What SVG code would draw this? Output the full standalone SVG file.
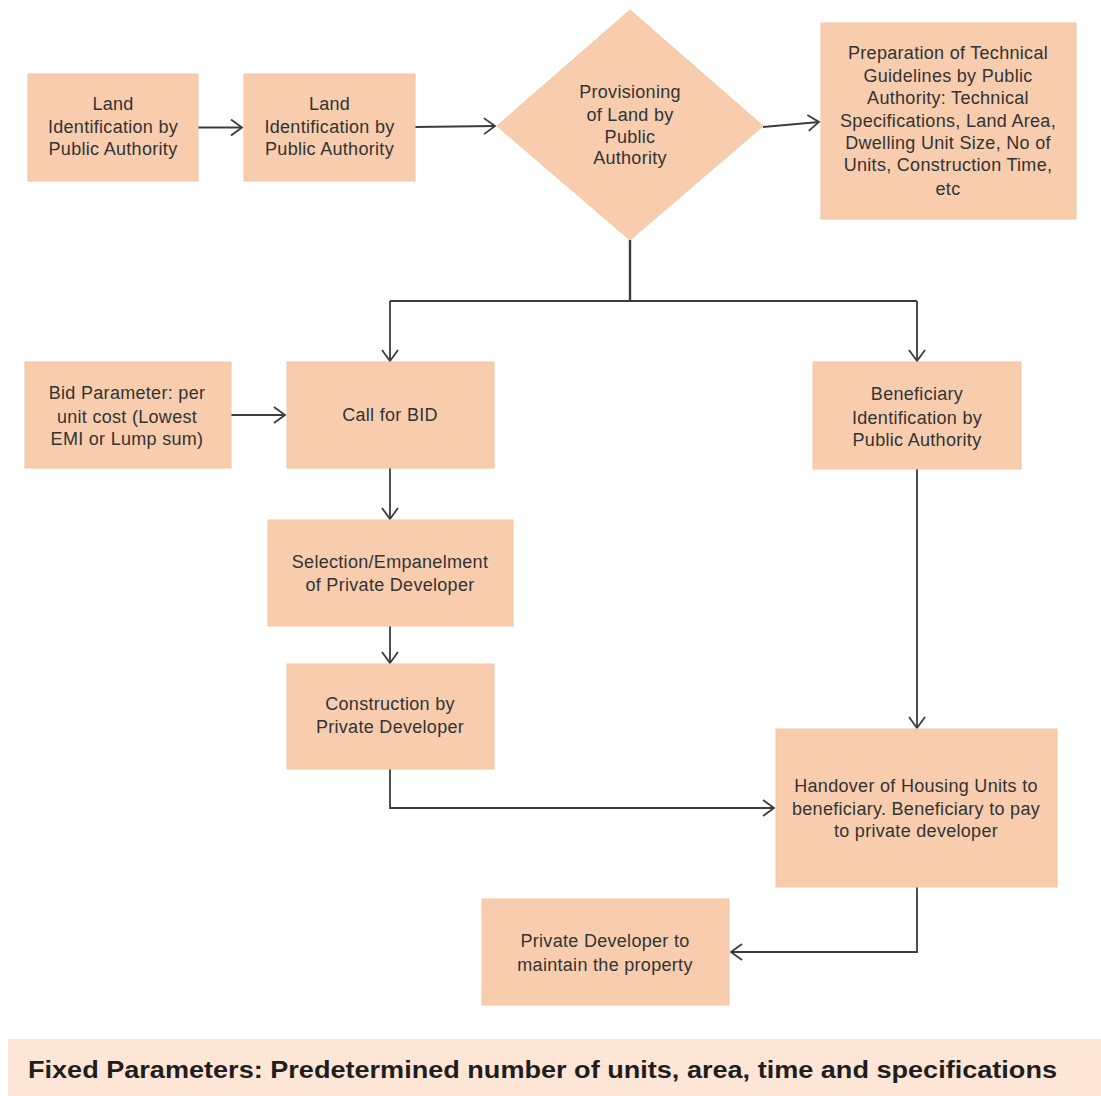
<svg xmlns="http://www.w3.org/2000/svg" width="1101" height="1096" viewBox="0 0 1101 1096">
<style>
.box{fill:#f8cdae;stroke:#f3c3a1;stroke-width:1}
.t{font-family:"Liberation Sans",Arial,sans-serif;font-size:18px;letter-spacing:0.3px;fill:#333;text-anchor:middle}
.c{fill:none;stroke:#3c3c3c;stroke-width:1.8}
</style>
<defs>
<marker id="arr" markerUnits="userSpaceOnUse" markerWidth="14" markerHeight="20" refX="12" refY="9" orient="auto">
<path d="M1,1 L12,9 L1,17" fill="none" stroke="#3c3c3c" stroke-width="1.8"/>
</marker>
</defs>
<rect width="1101" height="1096" fill="#ffffff"/>

<g id="connectors">
<line class="c" x1="198" y1="127.5" x2="242" y2="127.5" marker-end="url(#arr)"/>
<line class="c" x1="415" y1="127" x2="495" y2="126" marker-end="url(#arr)"/>
<line class="c" x1="763" y1="127" x2="819" y2="122" marker-end="url(#arr)"/>
<path class="c" d="M630,240 V301" style="stroke-width:2.4"/>
<path class="c" d="M390,301 H917"/>
<path class="c" d="M390,301 V361" marker-end="url(#arr)"/>
<path class="c" d="M917,301 V361" marker-end="url(#arr)"/>
<line class="c" x1="231" y1="415" x2="285" y2="415" marker-end="url(#arr)"/>
<path class="c" d="M390,468 V519" marker-end="url(#arr)"/>
<path class="c" d="M390,626 V663" marker-end="url(#arr)"/>
<path class="c" d="M390,769 V808 H774" marker-end="url(#arr)"/>
<path class="c" d="M917,469 V728" marker-end="url(#arr)"/>
<path class="c" d="M917,887 V952 H731" marker-end="url(#arr)"/>
</g>

<g id="land1">
<rect class="box" x="28" y="74" width="170" height="107"/>
<text class="t" x="113" y="110">Land</text>
<text class="t" x="113" y="133">Identification by</text>
<text class="t" x="113" y="155">Public Authority</text>
</g>

<g id="land2">
<rect class="box" x="244" y="74" width="171" height="107"/>
<text class="t" x="329.5" y="110">Land</text>
<text class="t" x="329.5" y="133">Identification by</text>
<text class="t" x="329.5" y="155">Public Authority</text>
</g>

<g id="provisioning">
<polygon class="box" points="630,10 763,126 630,240 497,126"/>
<text class="t" x="630" y="98">Provisioning</text>
<text class="t" x="630" y="121">of Land by</text>
<text class="t" x="630" y="143">Public</text>
<text class="t" x="630" y="164">Authority</text>
</g>

<g id="technical">
<rect class="box" x="821" y="23" width="255" height="196"/>
<text class="t" x="948" y="59">Preparation of Technical</text>
<text class="t" x="948" y="82">Guidelines by Public</text>
<text class="t" x="948" y="104">Authority: Technical</text>
<text class="t" x="948" y="127">Specifications, Land Area,</text>
<text class="t" x="948" y="149">Dwelling Unit Size, No of</text>
<text class="t" x="948" y="171">Units, Construction Time,</text>
<text class="t" x="948" y="195">etc</text>
</g>

<g id="bidparam">
<rect class="box" x="25" y="362" width="206" height="106"/>
<text class="t" x="127" y="399">Bid Parameter: per</text>
<text class="t" x="127" y="423">unit cost (Lowest</text>
<text class="t" x="127" y="445">EMI or Lump sum)</text>
</g>

<g id="callbid">
<rect class="box" x="287" y="362" width="207" height="106"/>
<text class="t" x="390" y="421">Call for BID</text>
</g>

<g id="selection">
<rect class="box" x="268" y="520" width="245" height="106"/>
<text class="t" x="390" y="568">Selection/Empanelment</text>
<text class="t" x="390" y="591">of Private Developer</text>
</g>

<g id="construction">
<rect class="box" x="287" y="664" width="207" height="105"/>
<text class="t" x="390" y="710">Construction by</text>
<text class="t" x="390" y="733">Private Developer</text>
</g>

<g id="beneficiary">
<rect class="box" x="813" y="362" width="208" height="107"/>
<text class="t" x="917" y="400">Beneficiary</text>
<text class="t" x="917" y="424">Identification by</text>
<text class="t" x="917" y="446">Public Authority</text>
</g>

<g id="handover">
<rect class="box" x="776" y="729" width="281" height="158"/>
<text class="t" x="916" y="792">Handover of Housing Units to</text>
<text class="t" x="916" y="815">beneficiary. Beneficiary to pay</text>
<text class="t" x="916" y="837">to private developer</text>
</g>

<g id="maintain">
<rect class="box" x="482" y="899" width="247" height="106"/>
<text class="t" x="605" y="947">Private Developer to</text>
<text class="t" x="605" y="971">maintain the property</text>
</g>

<g id="fixed">
<rect x="8" y="1039" width="1093" height="57" fill="#fde6d6"/>
<text x="28" y="1078" font-family="'Liberation Sans',Arial,sans-serif" font-weight="bold" font-size="23.5" fill="#1e1e1e" textLength="1029" lengthAdjust="spacingAndGlyphs">Fixed Parameters: Predetermined number of units, area, time and specifications</text>
</g>
</svg>
